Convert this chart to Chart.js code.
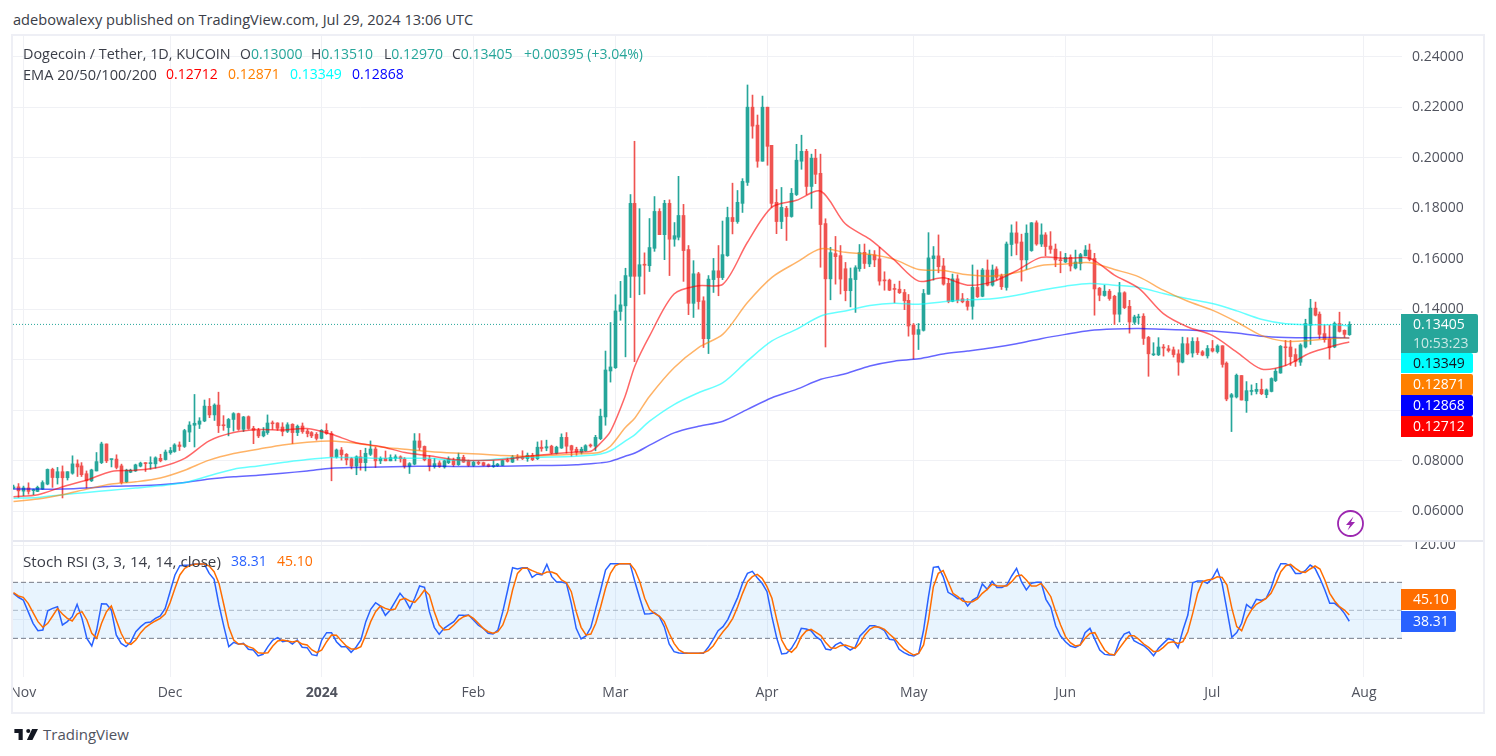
<!DOCTYPE html>
<html>
<head>
<meta charset="utf-8">
<title>Dogecoin / Tether</title>
<script src="https://cdn.jsdelivr.net/npm/chart.js@4/dist/chart.umd.js"></script>
<style>
    html, body { margin: 0; background: #fff; overflow: hidden; }
    body { width: 1496px; height: 756px; position: relative; font-family: "Open Sans", sans-serif; font-size: 14px; color: #3a3d47; }
    .abs { position: absolute; white-space: pre; line-height: 20px; }
    .word { font-size: 14.6px; }
    .frame { position: absolute; left: 11px; top: 34px; width: 1470px; height: 676px; border: 2px solid #eeeff5; }
    .sep { position: absolute; left: 13px; top: 540px; width: 1470px; height: 2px; background: #e6e8f0; }
    canvas { position: absolute; }
    #priceCanvas { left: 13px; top: 36px; }
    #rsiCanvas { left: 13px; top: 541px; }
    .up { color: #26a69a; }
    .tag { position: absolute; left: 1401px; width: 60px; padding-left: 12px; color: #fff; border-radius: 0 2px 2px 0; line-height: 20px; white-space: pre; }
</style>
</head>
<body>
<canvas id="priceCanvas" width="1470" height="505"></canvas>
<canvas id="rsiCanvas" width="1470" height="171"></canvas>
<div class="frame"></div>
<div class="sep"></div>

<div class="abs word" style="left:13px;top:9px">adebowalexy published on TradingView.com, Jul 29, 2024 13:06 UTC</div>

<div class="abs" style="left:23px;top:44px;font-size:14.4px">Dogecoin / Tether, 1D, KUCOIN</div>
<div class="abs" style="left:240px;top:44px">O<span class="up">0.13000</span></div>
<div class="abs" style="left:311px;top:44px">H<span class="up">0.13510</span></div>
<div class="abs" style="left:384px;top:44px">L<span class="up">0.12970</span></div>
<div class="abs" style="left:452px;top:44px">C<span class="up">0.13405</span></div>
<div class="abs up" style="left:524px;top:44px">+0.00395 (+3.04%)</div>

<div class="abs word" style="left:23px;top:64px">EMA 20/50/100/200</div>
<div class="abs" style="left:166px;top:64px;color:#ff0000">0.12712</div>
<div class="abs" style="left:228px;top:64px;color:#ff8000">0.12871</div>
<div class="abs" style="left:290px;top:64px;color:#00ffff">0.13349</div>
<div class="abs" style="left:352px;top:64px;color:#0000ff">0.12868</div>

<div class="abs" style="left:23px;top:551px;font-size:15.2px">Stoch RSI (3, 3, 14, 14, close)</div>
<div class="abs" style="left:231px;top:551px;color:#2962ff">38.31</div>
<div class="abs" style="left:277px;top:551px;color:#ff6d00">45.10</div>

<!-- scale tags for the last values -->
<div class="tag" style="top:314px;height:39px;width:65px;background:#26a69a;line-height:19px">0.13405<br><span style="opacity:.75">10:53:23</span></div>
<div class="tag" style="top:353px;height:20px;background:#00ffff;color:#131722">0.13349</div>
<div class="tag" style="top:374px;height:21px;background:#ff8000">0.12871</div>
<div class="tag" style="top:395px;height:21px;background:#0000ff">0.12868</div>
<div class="tag" style="top:416px;height:21px;background:#ff0000">0.12712</div>
<div class="tag" style="top:589px;height:21px;width:43px;background:#ff6d00">45.10</div>
<div class="tag" style="top:611px;height:21px;width:43px;background:#2962ff">38.31</div>

<!-- dividends/news marker -->
<svg style="position:absolute;left:1336px;top:509px" width="29" height="29" viewBox="0 0 29 29">
    <circle cx="14.5" cy="14.5" r="12.5" fill="#fff" stroke="#9c27b0" stroke-width="1.8"/>
    <path d="M17.5 7.5 L10 16 H14 L11.5 21.5 L19 13 H15 Z" fill="#9c27b0"/>
</svg>

<svg style="position:absolute;left:13px;top:728px" width="25" height="13" viewBox="0 6 36 16">
    <path d="M14 6H2v6h6v10h6V6zm14 16h-8l7.5-16H36l-8 16zM22 12a3 3 0 1 0 0-6 3 3 0 0 0 0 6z" fill="#131722"/>
</svg>
<div class="abs" style="left:43px;top:724px;font-size:15px;color:#50535e">TradingView</div>

<script>
// prices are kept in thousandths of USDT, one candle per day starting at Oct 30 2023
const opens = [
    69.2,69.7,68.0,69.3,68.2,67.9,68.8,70.8,76.6,73.3,
    75.7,73.3,75.1,78.8,78.0,74.9,72.1,76.0,79.3,86.7,
    80.5,80.7,78.0,71.7,75.5,76.0,77.9,79.2,78.9,78.8,
    81.0,80.5,83.2,83.7,86.3,85.7,91.4,94.1,94.5,95.8,
    101.6,98.2,102.1,94.2,93.2,96.4,98.7,92.5,97.5,92.9,
    92.1,89.9,91.2,95.0,95.0,93.4,91.7,94.5,91.2,93.8,
    91.8,91.2,90.5,88.9,92.1,90.8,81.6,84.3,82.6,80.9,
    77.9,81.6,79.3,82.6,84.7,80.0,81.0,80.0,81.0,81.6,
    80.7,77.9,78.7,87.9,85.7,80.7,77.8,79.2,77.6,79.3,
    80.2,78.5,81.4,79.8,78.2,79.4,79.3,78.5,77.8,78.1,
    78.2,80.1,79.5,81.5,81.4,80.9,82.2,80.9,85.4,85.1,
    85.8,83.0,85.1,89.3,86.0,84.6,83.5,84.0,86.2,85.8,
    88.8,97.4,115.6,116.9,139.2,141.4,153.1,182.0,153.1,157.7,
    157.3,164.2,178.8,169.6,182.0,167.8,168.6,177.2,163.7,142.4,
    154.1,143.4,128.4,151.8,155.3,152.6,161.3,176.4,174.8,182.0,
    190.3,220.1,213.0,198.7,220.1,205.0,182.4,174.8,180.0,176.8,
    185.5,198.7,202.6,188.7,199.9,193.9,174.0,152.1,162.1,161.3,
    156.1,147.4,151.8,156.1,162.6,158.0,161.6,160.0,151.6,151.6,
    148.1,148.0,146.7,143.6,133.8,130.1,131.7,146.0,160.1,161.2,
    157.2,150.3,143.2,152.1,144.2,143.2,141.2,148.7,145.2,155.6,
    149.6,156.0,153.2,148.7,165.7,170.3,166.7,159.6,163.3,174.3,
    165.9,169.5,165.1,163.9,159.6,158.8,160.6,156.4,158.2,161.2,
    163.5,160.2,148.4,145.5,147.2,145.2,138.1,146.6,141.2,134.9,
    136.7,137.3,128.9,122.0,122.0,125.1,124.4,124.0,122.4,119.1,
    126.4,122.7,127.3,123.2,121.6,124.5,123.3,125.6,118.7,105.2,
    105.3,113.8,103.8,107.5,107.5,108.3,106.2,107.5,111.8,114.8,
    125.1,125.1,122.1,119.1,125.1,133.7,140.5,138.1,130.4,128.2,
    125.1,134.4,131.7,130.0
];
const highs = [
    70.4,71.0,70.0,71.3,68.8,70.0,72.1,76.8,77.1,77.4,
    78.0,75.7,82.0,80.4,79.3,76.0,76.7,83.3,87.4,86.7,
    80.7,82.4,78.7,76.7,76.7,78.7,79.5,79.3,81.6,81.6,
    82.6,84.3,85.3,86.8,87.5,92.5,95.5,106.3,97.1,104.1,
    104.7,102.6,107.2,97.9,96.8,99.1,98.9,97.6,97.8,93.7,
    92.9,93.2,98.2,95.8,95.1,95.1,95.1,94.7,94.2,95.0,
    92.5,91.6,91.2,92.4,94.7,91.6,84.7,85.3,82.9,81.3,
    82.0,84.2,85.0,87.9,85.5,81.6,83.9,82.4,82.4,82.0,
    81.3,79.3,90.8,90.8,85.9,82.0,81.0,80.0,80.3,81.6,
    81.1,83.1,82.2,80.3,79.8,79.8,79.5,78.8,80.1,79.0,
    80.3,81.1,82.2,82.5,84.0,83.1,83.0,87.5,88.0,88.2,
    86.2,85.8,90.7,91.2,86.2,85.4,85.4,86.4,86.7,90.1,
    100.5,123.5,134.8,145.8,151.1,156.3,185.5,206.6,179.9,162.4,
    176.0,184.7,179.9,183.2,183.4,174.4,192.7,181.6,165.3,159.3,
    154.7,145.0,153.4,160.2,165.3,175.0,180.5,190.0,187.1,191.8,
    228.9,224.9,217.0,224.5,220.1,205.0,187.5,188.3,180.8,187.9,
    205.4,209.0,203.4,201.5,203.4,201.5,175.9,164.6,168.9,165.3,
    158.6,156.4,157.3,165.7,165.9,163.5,163.3,164.6,154.9,152.0,
    150.0,151.2,147.9,145.9,134.4,134.4,147.9,170.4,164.9,169.5,
    160.2,152.3,154.0,153.7,146.3,144.3,157.6,155.6,156.2,159.6,
    157.6,156.9,154.0,166.7,173.5,174.7,169.8,173.5,174.4,175.1,
    173.9,170.4,170.8,165.9,162.9,162.2,161.6,163.5,162.2,165.3,
    165.9,162.2,148.7,149.6,147.9,145.6,150.7,147.0,143.6,137.7,
    138.1,138.3,129.3,126.8,128.8,126.1,125.7,125.1,124.0,129.0,
    128.8,128.8,128.8,123.7,125.7,127.7,126.0,125.6,119.2,106.7,
    114.4,113.8,111.4,110.1,110.7,112.4,108.5,112.9,116.5,125.7,
    127.7,127.7,124.4,126.4,136.1,144.0,142.9,139.0,133.7,133.7,
    135.0,138.9,131.9,135.1
];
const lows = [
    68.8,65.5,66.2,66.8,66.6,67.8,68.7,70.5,69.5,70.8,
    65.3,72.4,74.7,73.8,73.8,69.2,71.8,76.0,78.9,79.3,
    77.6,76.8,70.8,71.4,75.3,75.8,77.6,75.8,76.7,77.1,
    79.6,80.3,82.6,83.4,84.1,85.3,87.6,85.5,92.8,95.5,
    97.1,96.0,91.2,92.1,89.9,91.8,92.1,91.6,92.5,86.8,
    89.2,89.5,90.5,92.5,92.1,89.9,91.2,86.8,90.0,90.9,
    89.5,89.2,88.2,88.7,90.5,72.1,81.1,80.3,78.4,76.8,
    74.5,76.3,76.0,82.1,77.4,78.9,80.0,80.0,80.0,79.5,
    77.1,75.0,78.4,84.2,80.0,76.0,77.1,77.4,77.1,78.9,
    77.8,78.2,79.4,77.8,77.8,78.5,78.0,77.6,77.4,77.8,
    78.1,79.5,79.3,80.3,80.5,79.8,80.1,80.5,83.8,84.0,
    82.7,82.7,84.9,83.1,81.8,82.2,82.7,83.8,85.4,84.0,
    88.4,94.1,111.2,116.6,135.7,121.2,144.7,119.3,145.8,146.1,
    155.0,163.0,169.6,159.7,153.4,165.0,167.5,151.1,137.9,136.8,
    140.1,124.9,122.5,146.7,145.4,151.8,161.0,169.9,174.1,178.4,
    189.1,207.8,196.3,198.7,197.1,180.4,170.0,172.0,167.3,176.5,
    185.1,195.5,185.5,180.0,189.8,156.7,125.1,143.8,150.0,146.1,
    143.4,141.0,138.8,155.1,156.2,156.9,156.9,149.6,147.6,147.4,
    142.6,146.3,139.9,129.4,120.4,124.1,131.4,146.0,151.6,154.5,
    149.6,142.6,143.0,142.6,142.6,139.7,136.1,144.7,145.0,149.3,
    149.2,151.6,147.9,147.6,161.2,161.6,151.2,155.8,163.0,165.4,
    164.9,161.2,162.2,156.9,154.5,158.5,155.2,156.0,155.6,161.2,
    159.2,137.7,143.4,145.2,143.6,134.0,135.0,140.3,130.6,134.1,
    134.3,126.1,113.5,121.7,121.7,121.5,123.1,121.1,113.9,118.8,
    122.0,121.1,122.1,121.6,120.7,123.1,122.7,117.1,103.8,91.6,
    104.9,104.1,99.2,106.1,106.5,106.2,105.0,107.3,111.4,114.7,
    117.8,117.8,117.4,117.8,124.7,126.1,137.4,128.4,127.0,120.3,
    124.8,131.0,128.8,129.7
];
const closes = [
    69.7,68.1,69.3,67.9,68.5,69.5,71.4,76.6,73.4,75.7,
    73.3,75.7,78.8,77.6,74.5,72.1,76.4,79.7,86.7,80.0,
    80.7,77.4,71.4,76.3,76.3,78.4,79.1,78.9,79.2,81.2,
    80.0,83.5,84.1,86.3,85.7,92.0,94.2,94.9,95.8,101.7,
    98.2,102.1,93.9,93.9,96.4,98.7,92.5,97.4,92.8,92.1,
    89.9,91.6,95.0,94.7,92.9,91.6,94.3,91.2,93.7,91.6,
    90.8,89.9,88.9,92.1,90.8,81.6,84.3,82.4,80.4,77.9,
    81.6,79.3,83.0,84.7,80.0,81.0,80.0,81.3,81.6,80.8,
    77.9,78.9,87.9,85.3,80.4,77.9,78.9,77.8,80.0,80.7,
    78.5,81.4,79.5,78.2,79.4,79.0,78.2,77.8,78.1,78.7,
    80.1,79.8,81.5,81.1,80.9,82.2,80.5,85.4,84.9,85.6,
    83.1,85.4,89.3,85.8,84.2,83.5,84.6,86.0,85.9,89.3,
    97.7,116.0,117.2,139.4,141.8,153.4,182.0,153.1,157.7,157.5,
    164.5,178.8,169.6,182.0,167.8,169.2,177.2,163.3,142.4,154.1,
    143.1,128.4,152.0,155.3,152.6,161.7,176.4,174.8,182.4,190.7,
    220.1,212.6,198.7,220.1,204.6,182.0,174.8,180.4,176.8,186.0,
    199.1,202.6,188.7,199.9,193.5,173.6,152.1,162.5,160.9,152.0,
    147.4,152.2,156.5,162.5,158.2,161.6,159.6,151.2,151.3,147.6,
    147.9,146.6,143.4,133.4,130.1,132.0,146.3,160.4,161.2,156.9,
    150.0,143.2,152.1,143.6,143.0,141.2,148.7,145.0,155.6,149.6,
    155.6,152.7,149.0,165.9,170.3,166.2,159.6,170.2,174.3,165.9,
    169.5,164.9,163.8,159.6,159.3,160.6,157.2,158.8,161.7,163.5,
    159.8,148.1,145.6,147.2,144.3,138.1,146.6,140.7,135.0,137.0,
    137.0,128.5,122.4,122.4,125.1,124.7,123.7,122.1,119.1,126.4,
    122.4,127.3,122.9,121.9,124.5,123.5,125.5,118.2,104.5,106.2,
    113.9,104.1,107.8,107.8,108.3,106.6,108.1,112.6,115.5,125.4,
    124.8,121.3,119.4,125.9,134.4,140.5,137.7,130.1,128.0,124.8,
    134.4,131.3,130.1,134.05
];

// moving averages, read at these candle numbers
const emaDays = [0,5,10,15,20,25,30,35,40,45,50,55,60,65,70,75,80,85,90,95,100,105,110,115,118,120,122,125,127,
    130,135,140,145,150,155,160,165,170,175,180,185,190,195,200,205,210,215,220,225,230,235,240,245,250,255,260,265,270,273];
const ema20 = [65.8,66.6,69.7,72.4,75.8,76.3,77.6,81.0,87.9,91.2,92.4,92.2,92.8,90.5,87.2,85.7,83.3,82.0,80.5,80.1,80.5,81.8,82.7,83.5,83.8,87.1,91.7,105.6,117.6,
    129.5,146.1,149.4,150.0,166.6,180.5,183.2,186.8,173.9,167.8,159.6,151.2,152.5,149.6,150.9,155.3,160.6,160.2,160.2,153.6,148.3,138.3,133.0,129.7,123.1,116.4,117.8,122.7,125.7,127.12];
const ema50 = [63.9,64.9,66.6,68.8,70.8,71.7,73.2,76.3,80.3,82.9,84.6,86.3,87.4,87.9,87.0,85.5,84.6,83.7,83.1,82.7,82.1,81.8,82.2,82.7,83.0,83.5,85.8,93.1,97.0,
    105.6,116.9,124.9,130.2,142.7,152.7,158.6,164.0,162.6,161.8,159.8,155.8,155.4,153.7,153.2,154.6,157.4,158.0,158.5,155.8,152.9,147.6,143.2,139.7,135.0,129.7,127.4,127.7,128.6,128.71];
const ema100 = [65.2,65.5,66.6,67.5,68.4,69.2,70.1,71.4,74.1,76.7,78.0,79.3,80.5,81.3,81.3,81.0,81.0,81.0,80.2,80.1,80.9,81.4,81.5,81.8,82.2,82.7,84.0,87.8,90.4,
    95.7,102.3,107.0,111.0,119.6,127.5,132.1,137.4,139.4,141.5,142.4,142.0,143.0,143.8,144.2,145.6,147.6,149.2,150.3,149.6,148.7,146.3,144.2,142.3,139.4,136.1,134.3,133.9,133.9,133.49];
const ema200 = [68.8,68.8,68.8,69.2,69.9,70.1,70.5,71.4,72.8,73.7,74.3,75.1,76.0,77.1,77.4,77.6,77.8,77.9,77.8,77.8,77.9,78.1,78.2,78.5,78.9,79.2,79.8,81.8,83.1,
    86.2,91.1,93.7,95.7,100.4,105.0,108.3,112.3,114.5,117.6,119.5,120.4,122.3,123.5,124.8,126.4,128.4,130.1,131.6,132.2,132.4,132.1,131.8,131.4,130.6,129.4,128.9,128.8,128.9,128.68];
const lastPrice = 134.05;

// stochastic RSI, one value per candle
const stochK = [
    68.2,64.0,61.1,48.6,36.1,28.2,28.9,49.6,52.1,53.9,
    34.3,37.9,43.2,56.4,41.4,20.0,11.8,28.9,57.1,56.8,
    50.4,23.6,14.6,11.1,16.4,27.1,32.5,36.8,37.5,41.4,
    43.9,52.1,70.0,87.9,97.9,98.2,98.6,99.6,99.6,99.6,
    89.6,83.2,55.7,32.5,11.1,15.7,13.6,14.6,8.2,7.5,
    1.1,2.9,11.1,18.2,20.7,16.4,17.5,13.9,18.2,10.4,
    10.0,2.5,1.4,18.2,26.1,26.1,16.4,11.1,11.1,5.0,
    10.4,18.2,37.9,51.1,58.2,54.6,44.6,50.4,59.3,68.2,
    61.8,52.1,62.9,76.1,74.6,48.6,31.8,24.3,30.7,34.3,
    37.9,44.6,44.6,45.0,39.7,34.0,30.7,25.4,24.6,28.9,
    48.6,71.8,95.7,94.3,95.7,95.7,85.4,89.0,87.9,99.3,
    86.1,80.4,80.4,79.0,57.5,30.7,19.3,22.5,31.8,52.1,
    71.8,93.2,100,100,100,100,100,80.7,62.9,46.1,
    46.4,47.5,43.2,32.5,13.9,5.7,4.3,3.9,3.9,3.9,
    3.9,3.9,10.4,19.0,28.2,32.5,40.4,52.1,63.9,79.0,
    89.6,91.8,85.0,79.0,70.0,43.2,20.0,3.2,3.9,9.3,
    18.2,30.7,30.0,28.2,21.8,18.2,8.6,7.5,12.9,15.7,
    11.1,7.5,10.4,22.5,27.9,33.6,33.6,31.4,28.2,19.0,
    18.2,8.2,4.6,2.1,1.1,3.9,28.9,64.6,96.1,96.8,
    86.1,69.3,66.4,62.5,62.9,54.6,61.1,64.0,78.2,72.5,
    81.1,74.6,74.6,77.1,86.8,95.0,80.7,71.8,78.9,80.0,
    80.0,61.8,53.2,33.2,22.5,16.4,11.8,10.3,12.8,26.1,
    30.7,18.9,7.5,2.8,2.1,2.1,16.4,24.6,26.8,17.5,
    14.6,12.1,7.5,1.4,9.3,14.6,19.6,18.2,10.0,28.9,
    45.0,79.6,81.4,81.4,78.9,84.3,93.9,78.9,50.3,21.1,
    26.1,36.1,56.1,52.1,61.8,60.7,62.8,73.6,89.6,100,
    100,97.5,89.6,89.6,92.5,98.5,95.0,84.3,71.8,57.5,
    57.5,53.2,46.8,38.31
];
const stochD = [
    68.9,65.4,63.9,57.5,47.5,37.9,31.8,36.1,43.9,52.1,
    46.1,41.4,38.6,46.1,48.6,39.7,25.4,20.0,36.1,48.6,
    54.6,39.7,25.4,15.4,13.6,18.2,26.1,31.8,35.4,38.6,
    41.4,46.1,58.2,73.6,87.9,95.0,97.9,99.3,99.6,99.6,
    97.5,91.4,78.9,55.7,31.8,18.2,13.9,13.9,11.1,9.3,
    4.6,3.9,4.6,11.8,17.1,18.2,17.1,16.1,17.1,13.9,
    12.9,7.5,4.6,7.5,16.4,23.6,23.2,17.5,11.8,8.6,
    8.6,11.1,23.6,37.9,48.6,54.6,52.1,50.4,51.4,61.1,
    62.9,60.0,58.6,64.6,71.8,66.4,48.6,34.3,28.9,29.6,
    34.3,39.7,43.2,44.6,41.4,36.1,30.7,27.1,25.4,27.1,
    34.3,48.6,71.8,89.6,95.0,95.0,92.5,90.4,88.6,91.1,
    91.1,89.0,82.5,79.6,70.0,48.6,31.8,23.6,24.6,36.1,
    53.9,73.6,89.6,97.9,100,100,100,93.2,80.7,62.9,
    51.1,46.8,43.9,37.9,25.4,14.6,7.5,4.6,3.9,3.9,
    3.9,4.6,6.8,11.8,20.0,27.1,33.2,41.4,53.9,68.2,
    80.7,86.1,88.6,84.3,75.4,62.9,39.7,18.2,8.6,5.0,
    10.4,21.8,27.9,29.6,26.4,22.9,15.4,10.0,9.3,12.1,
    12.9,11.1,9.3,14.6,23.6,29.6,32.5,31.8,29.6,24.6,
    20.0,13.9,8.6,5.0,2.1,3.9,12.9,39.7,75.4,89.6,
    92.5,80.7,68.2,64.6,60.0,58.9,59.3,62.2,68.2,72.5,
    77.9,76.4,76.0,76.0,80.7,86.8,87.8,82.5,76.0,76.0,
    78.9,72.5,64.6,48.6,34.3,21.8,15.3,11.8,12.8,20.0,
    25.3,26.1,16.4,7.5,3.2,2.1,9.3,16.4,22.8,22.8,
    18.9,13.9,10.3,5.7,6.4,10.3,15.3,16.4,14.6,16.4,
    27.1,46.8,68.2,80.7,82.5,83.2,86.0,85.3,77.1,52.1,
    32.5,28.2,41.4,50.3,56.4,59.3,62.8,68.2,78.9,91.4,
    97.8,99.3,95.0,91.4,90.7,94.3,97.5,94.3,82.5,68.2,
    60.0,53.9,50.3,45.10
];

const priceTicks = [60, 80, 100, 120, 140, 160, 180, 200, 220, 240];
const rsiTicks = [40, 120];
const rsiBands = [80, 50, 20];
const monthTicks = [2, 32, 63, 94, 123, 154, 184, 215, 245, 276];
const monthLabels = ['Nov', 'Dec', '2024', 'Feb', 'Mar', 'Apr', 'May', 'Jun', 'Jul', 'Aug'];

const days = closes.map((_, i) => i);
const xMin = -0.1, xMax = 283.77;

const GREEN = '#26a69a', RED = '#ef5350';
const GRID = '#f0f1f5';
const candleColors = closes.map((c, i) => c >= opens[i] ? GREEN : RED);
const axisFont = { family: 'Open Sans', size: 14 };

function emaLine(values, color) {
    return {
        type: 'line', order: 1, data: emaDays.map((d, i) => ({ x: d, y: values[i] })),
        borderColor: color, borderWidth: 1.5, pointRadius: 0, tension: 0.3
    };
}

// the plot area has to reach the canvas edges, labels may get cut there
function noPadding(axis) {
    axis.paddingLeft = axis.paddingRight = axis.paddingTop = axis.paddingBottom = 0;
}

// keep wicks and bodies on whole pixels so they stay sharp
const snapBars = {
    id: 'snapBars',
    afterDatasetsUpdate(chart) {
        chart.getSortedVisibleDatasetMetas().forEach(meta => {
            if (meta.type !== 'bar') return;
            meta.data.forEach(bar => { bar.x = Math.round(bar.x - 0.5) + 0.5; });
        });
    }
};

new Chart(document.getElementById('priceCanvas'), {
    type: 'bar',
    plugins: [snapBars],
    data: {
        datasets: [
            emaLine(ema20, 'rgba(255,0,0,0.6)'),
            emaLine(ema50, 'rgba(255,128,0,0.6)'),
            emaLine(ema100, 'rgba(0,255,255,0.6)'),
            emaLine(ema200, 'rgba(0,0,255,0.6)'),
            {
                type: 'bar', order: 2, grouped: false, barThickness: 3, maxBarThickness: 3, minBarLength: 1,
                data: days.map(i => ({ x: i, y: [opens[i], closes[i]] })),
                backgroundColor: candleColors
            },
            {
                type: 'bar', order: 3, grouped: false, barThickness: 1, maxBarThickness: 1,
                data: days.map(i => ({ x: i, y: [lows[i], highs[i]] })),
                backgroundColor: candleColors
            },
            {
                type: 'line', order: 4, data: [{ x: xMin, y: lastPrice }, { x: xMax, y: lastPrice }],
                borderColor: GREEN, borderWidth: 1, borderDash: [1, 2], pointRadius: 0
            }
        ]
    },
    options: {
        responsive: false,
        animation: false,
        events: [],
        layout: { autoPadding: false, padding: 0 },
        plugins: { legend: { display: false }, tooltip: { enabled: false } },
        scales: {
            x: {
                type: 'linear', min: xMin, max: xMax, offset: false,
                afterBuildTicks: axis => { axis.ticks = monthTicks.map(v => ({ value: v })); },
                afterFit: axis => { axis.height = 0; noPadding(axis); },
                grid: { color: GRID, offset: false, drawTicks: false },
                border: { display: false },
                ticks: { display: false }
            },
            y: {
                position: 'right', min: 48.25, max: 248.3,
                afterBuildTicks: axis => { axis.ticks = priceTicks.map(v => ({ value: v })); },
                afterFit: axis => { axis.width = 81; noPadding(axis); },
                grid: { color: GRID, drawTicks: false },
                border: { display: false },
                ticks: {
                    padding: 10, color: '#50535e', font: axisFont,
                    callback: v => (v / 1000).toFixed(5)
                }
            }
        }
    }
});

function bandLine(level, color, fill) {
    return {
        data: [{ x: xMin, y: level }, { x: xMax, y: level }], order: 3,
        borderColor: color, borderWidth: 1, borderDash: [5, 3], pointRadius: 0,
        fill: fill, backgroundColor: 'rgba(33,150,243,0.1)'
    };
}

new Chart(document.getElementById('rsiCanvas'), {
    type: 'line',
    data: {
        datasets: [
            { data: days.map(i => ({ x: i, y: stochD[i] })), order: 1, borderColor: '#ff6d00', borderWidth: 1.5, pointRadius: 0 },
            { data: days.map(i => ({ x: i, y: stochK[i] })), order: 2, borderColor: '#2962ff', borderWidth: 1.5, pointRadius: 0 },
            bandLine(rsiBands[0], '#787b86', { value: rsiBands[2] }),
            bandLine(rsiBands[1], 'rgba(120,123,134,0.5)', false),
            bandLine(rsiBands[2], '#787b86', false)
        ]
    },
    options: {
        responsive: false,
        animation: false,
        events: [],
        layout: { autoPadding: false, padding: 0 },
        plugins: { legend: { display: false }, tooltip: { enabled: false } },
        scales: {
            x: {
                type: 'linear', min: xMin, max: xMax,
                afterBuildTicks: axis => { axis.ticks = monthTicks.map(v => ({ value: v })); },
                afterFit: axis => { axis.height = 35; noPadding(axis); },
                grid: { color: GRID, drawTicks: false },
                border: { display: false },
                ticks: {
                    autoSkip: false, maxRotation: 0, minRotation: 0, padding: 8, color: '#50535e',
                    font: ctx => ctx.tick && ctx.tick.value === 63 ? { ...axisFont, weight: 'bold' } : axisFont,
                    callback: v => monthLabels[monthTicks.indexOf(v)]
                }
            },
            y: {
                position: 'right', min: -21.43, max: 124.29,
                afterBuildTicks: axis => { axis.ticks = rsiTicks.map(v => ({ value: v })); },
                afterFit: axis => { axis.width = 81; noPadding(axis); },
                grid: { color: GRID, drawTicks: false },
                border: { display: false },
                ticks: {
                    padding: 10, color: '#50535e', font: axisFont,
                    callback: v => v.toFixed(2)
                }
            }
        }
    }
});
</script>
</body>
</html>
